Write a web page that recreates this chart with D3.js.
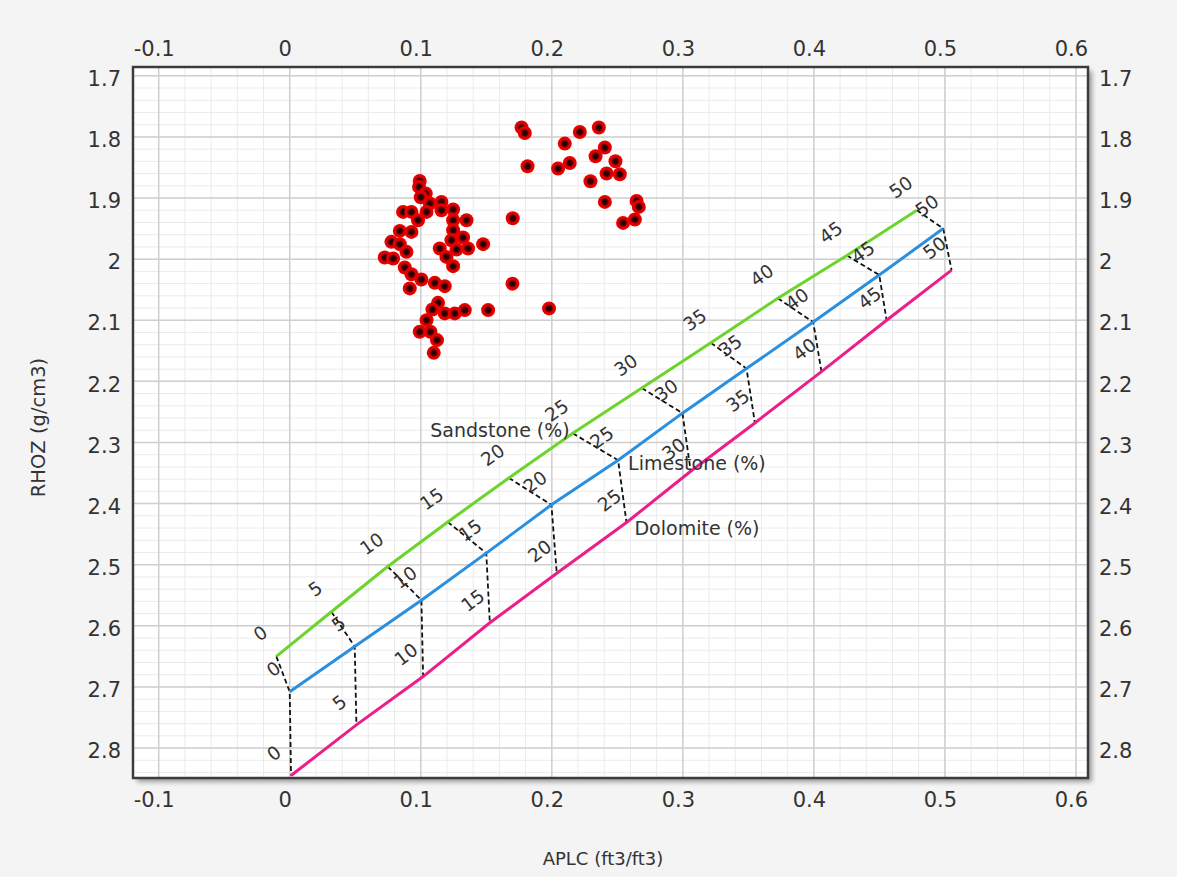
<!DOCTYPE html>
<html>
<head>
<meta charset="utf-8">
<script src="https://cdn.jsdelivr.net/npm/d3@7"></script>
<style>
  html, body { margin: 0; padding: 0; background: #f4f4f4; }
  svg { display: block; }
  text { font-family: "DejaVu Sans", Verdana, sans-serif; fill: #333333; }
</style>
</head>
<body>
<svg id="chart" width="1177" height="877"></svg>
<script>
// ---------- DATA ----------
const xTickValues = [-0.1, 0, 0.1, 0.2, 0.3, 0.4, 0.5, 0.6];
const xTickLabels = ["-0.1", "0", "0.1", "0.2", "0.3", "0.4", "0.5", "0.6"];
const yTickValues = [1.7, 1.8, 1.9, 2.0, 2.1, 2.2, 2.3, 2.4, 2.5, 2.6, 2.7, 2.8];
const yTickLabels = ["1.7", "1.8", "1.9", "2", "2.1", "2.2", "2.3", "2.4", "2.5", "2.6", "2.7", "2.8"];

const porosity = [0, 5, 10, 15, 20, 25, 30, 35, 40, 45, 50];
const sandAPLC = [-0.0102, 0.0318, 0.0748, 0.1206, 0.1672, 0.2160, 0.2687, 0.3214, 0.3725, 0.4252, 0.4786];
const sandRHOZ = [2.650, 2.577, 2.503, 2.430, 2.358, 2.285, 2.211, 2.137, 2.064, 1.994, 1.920];
const limeAPLC = [0.0000, 0.0496, 0.1005, 0.1500, 0.1997, 0.2506, 0.2997, 0.3486, 0.3995, 0.4499, 0.4987];
const limeRHOZ = [2.708, 2.634, 2.558, 2.481, 2.402, 2.329, 2.252, 2.179, 2.103, 2.026, 1.950];
const doloAPLC = [0.0010, 0.0509, 0.1018, 0.1527, 0.2038, 0.2570, 0.3060, 0.3550, 0.4058, 0.4555, 0.5051];
const doloRHOZ = [2.845, 2.762, 2.683, 2.595, 2.514, 2.431, 2.347, 2.268, 2.184, 2.100, 2.018];

const lithNames = ["Sandstone (%)", "Limestone (%)", "Dolomite (%)"];

const ptAPLC = [
  0.1769, 0.1794, 0.2214, 0.2359, 0.2099, 0.2405, 0.2334, 0.2486, 0.1815, 0.2048,
  0.2137, 0.2418, 0.2519, 0.2295, 0.2405, 0.2647, 0.2664, 0.2544, 0.2634,
  0.1702, 0.1700, 0.1979, 0.1514, 0.1476,
  0.0992, 0.0987, 0.1038, 0.1158, 0.1069, 0.0865, 0.0929, 0.1044, 0.1158, 0.1247,
  0.0979, 0.1247, 0.1349, 0.0840, 0.0929, 0.1247, 0.1234, 0.1323, 0.0776, 0.0840,
  0.1145, 0.1273, 0.1361, 0.0891, 0.0725, 0.0789, 0.1196, 0.1247, 0.0878, 0.0929,
  0.1005, 0.1107, 0.1183, 0.0916, 0.1132, 0.1089, 0.1183, 0.1260, 0.1336, 0.1044,
  0.0992, 0.1074, 0.1124, 0.1099, 0.1000
];
const ptRHOZ = [
  1.7847, 1.7935, 1.7919, 1.7847, 1.8109, 1.8174, 1.8316, 1.8398, 1.8480, 1.8517,
  1.8426, 1.8599, 1.8611, 1.8725, 1.9063, 1.9047, 1.9145, 1.9407, 1.9351,
  1.9330, 2.0401, 2.0806, 2.0834, 1.9755,
  1.8720, 1.8818, 1.8926, 1.9063, 1.9090, 1.9227, 1.9227, 1.9227, 1.9199, 1.9188,
  1.9363, 1.9363, 1.9363, 1.9538, 1.9554, 1.9526, 1.9690, 1.9646, 1.9717, 1.9755,
  1.9825, 1.9842, 1.9825, 1.9881, 1.9973, 1.9989, 1.9963, 2.0115, 2.0136, 2.0246,
  2.0332, 2.0388, 2.0442, 2.0479, 2.0715, 2.0823, 2.0888, 2.0888, 2.0834, 2.0998,
  2.1189, 2.1189, 2.1325, 2.1533, 1.8987
];

// ---------- LAYOUT ----------
const W = 1177, H = 877;
const plot = { left: 133, top: 67, right: 1088, bottom: 778 };

const x = d3.scaleLinear().domain([-0.1196, 0.6092]).range([plot.left, plot.right]);
const y = d3.scaleLinear().domain([1.6856, 2.849]).range([plot.top, plot.bottom]);

const svg = d3.select("#chart");

const defs = svg.append("defs");
const shadow = defs.append("filter").attr("id", "shadow").attr("x", "-5%").attr("y", "-5%").attr("width", "110%").attr("height", "110%");
shadow.append("feGaussianBlur").attr("stdDeviation", 2.5);
const grad = defs.append("radialGradient").attr("id", "dot");
grad.append("stop").attr("offset", "0%").attr("stop-color", "#1a0000");
grad.append("stop").attr("offset", "35%").attr("stop-color", "#3a0000");
grad.append("stop").attr("offset", "62%").attr("stop-color", "#d80000");
grad.append("stop").attr("offset", "100%").attr("stop-color", "#f00000");
defs.append("clipPath").attr("id", "clip").append("rect")
  .attr("x", plot.left).attr("y", plot.top)
  .attr("width", plot.right - plot.left).attr("height", plot.bottom - plot.top);

svg.append("rect").attr("width", W).attr("height", H).attr("fill", "#f4f4f4");

// shadow
svg.append("rect")
  .attr("x", plot.left + 4).attr("y", plot.top + 4)
  .attr("width", plot.right - plot.left).attr("height", plot.bottom - plot.top)
  .attr("fill", "#9a9a9a").attr("filter", "url(#shadow)");

svg.append("rect")
  .attr("x", plot.left).attr("y", plot.top)
  .attr("width", plot.right - plot.left).attr("height", plot.bottom - plot.top)
  .attr("fill", "#ffffff");

const g = svg.append("g").attr("clip-path", "url(#clip)");

// minor grid
const xMinor = d3.range(-0.12, 0.62, 0.02).filter(v => v > x.domain()[0] && v < x.domain()[1]);
const yMinor = d3.range(1.68, 2.86, 0.02).filter(v => v > y.domain()[0] && v < y.domain()[1]);
g.selectAll(".xminor").data(xMinor).join("line")
  .attr("x1", d => x(d)).attr("x2", d => x(d)).attr("y1", plot.top).attr("y2", plot.bottom)
  .attr("stroke", "#ebebeb").attr("stroke-width", 1);
g.selectAll(".yminor").data(yMinor).join("line")
  .attr("y1", d => y(d)).attr("y2", d => y(d)).attr("x1", plot.left).attr("x2", plot.right)
  .attr("stroke", "#ebebeb").attr("stroke-width", 1);
// major grid
g.selectAll(".xmajor").data(xTickValues).join("line")
  .attr("x1", d => x(d)).attr("x2", d => x(d)).attr("y1", plot.top).attr("y2", plot.bottom)
  .attr("stroke", "#cfcfcf").attr("stroke-width", 1.5);
g.selectAll(".ymajor").data(yTickValues).join("line")
  .attr("y1", d => y(d)).attr("y2", d => y(d)).attr("x1", plot.left).attr("x2", plot.right)
  .attr("stroke", "#cfcfcf").attr("stroke-width", 1.5);

// ---------- LITHOLOGY LINES ----------
const liths = [
  { name: lithNames[0], a: sandAPLC, r: sandRHOZ, color: "#6cd42a" },
  { name: lithNames[1], a: limeAPLC, r: limeRHOZ, color: "#2b8fe0" },
  { name: lithNames[2], a: doloAPLC, r: doloRHOZ, color: "#ec1e8a" }
];

// dashed connectors (equal porosity)
porosity.forEach((p, i) => {
  const pts = liths.map(l => [x(l.a[i]), y(l.r[i])]);
  g.append("path")
    .attr("d", d3.line()(pts))
    .attr("fill", "none").attr("stroke", "#111").attr("stroke-width", 1.8)
    .attr("stroke-dasharray", "5,3");
});

liths.forEach(l => {
  const pts = l.a.map((v, i) => [x(v), y(l.r[i])]);
  g.append("path")
    .attr("d", d3.line()(pts))
    .attr("fill", "none").attr("stroke", l.color).attr("stroke-width", 3);
});

// porosity labels
liths.forEach(l => {
  const n = l.a.length;
  const dx = x(l.a[n - 1]) - x(l.a[0]);
  const dy = y(l.r[n - 1]) - y(l.r[0]);
  const ang = Math.atan2(dy, dx);
  const deg = ang * 180 / Math.PI;
  const off = 28;
  const nx = Math.sin(ang) * off, ny = -Math.cos(ang) * off;
  porosity.forEach((p, i) => {
    const px = x(l.a[i]) + nx, py = y(l.r[i]) + ny;
    svg.append("text")
      .attr("transform", `translate(${px},${py}) rotate(${deg})`)
      .attr("text-anchor", "middle").attr("dominant-baseline", "central")
      .attr("font-size", 18.5).text(p);
  });
});

// lithology names
const i25 = porosity.indexOf(25);
svg.append("text")
  .attr("x", x(sandAPLC[i25]) - 3).attr("y", y(sandRHOZ[i25]) - 3)
  .attr("text-anchor", "end").attr("dominant-baseline", "central")
  .attr("font-size", 19).text(lithNames[0]);
svg.append("text")
  .attr("x", x(limeAPLC[i25]) + 10).attr("y", y(limeRHOZ[i25]) + 3)
  .attr("dominant-baseline", "central")
  .attr("font-size", 19).text(lithNames[1]);
svg.append("text")
  .attr("x", x(doloAPLC[i25]) + 8).attr("y", y(doloRHOZ[i25]) + 5)
  .attr("dominant-baseline", "central")
  .attr("font-size", 19).text(lithNames[2]);

// ---------- SCATTER ----------
g.selectAll(".pt").data(ptAPLC.map((v, i) => [v, ptRHOZ[i]])).join("circle")
  .attr("cx", d => x(d[0])).attr("cy", d => y(d[1])).attr("r", 7)
  .attr("fill", "url(#dot)");

// frame
svg.append("rect")
  .attr("x", plot.left).attr("y", plot.top)
  .attr("width", plot.right - plot.left).attr("height", plot.bottom - plot.top)
  .attr("fill", "none").attr("stroke", "#3c3c3c").attr("stroke-width", 2.5);

// ---------- AXES ----------
const fmtX = d => xTickLabels[xTickValues.indexOf(d)];
const fmtY = d => yTickLabels[yTickValues.indexOf(d)];
function styleAxis(sel) {
  sel.select(".domain").remove();
  sel.selectAll(".tick line").remove();
  sel.selectAll(".tick text").attr("font-size", 21).attr("fill", "#333333")
    .attr("font-family", "DejaVu Sans, Verdana, sans-serif");
}
svg.append("g").attr("transform", `translate(-5,${plot.top - 11})`)
  .call(d3.axisTop(x).tickValues(xTickValues).tickFormat(fmtX).tickSize(0).tickPadding(0))
  .call(styleAxis);
svg.append("g").attr("transform", `translate(-5,${plot.bottom + 10})`)
  .call(d3.axisBottom(x).tickValues(xTickValues).tickFormat(fmtX).tickSize(0).tickPadding(0))
  .call(styleAxis)
  .selectAll(".tick text").attr("dy", "0.9em");
svg.append("g").attr("transform", `translate(${plot.left - 12},3)`)
  .call(d3.axisLeft(y).tickValues(yTickValues).tickFormat(fmtY).tickSize(0).tickPadding(0))
  .call(styleAxis);
svg.append("g").attr("transform", `translate(${plot.right + 11},3)`)
  .call(d3.axisRight(y).tickValues(yTickValues).tickFormat(fmtY).tickSize(0).tickPadding(0))
  .call(styleAxis);

// titles
svg.append("text")
  .attr("x", 603).attr("y", 858)
  .attr("text-anchor", "middle").attr("dominant-baseline", "central")
  .attr("font-size", 18).text("APLC (ft3/ft3)");
svg.append("text")
  .attr("transform", `translate(38,${(plot.top + plot.bottom) / 2 + 5}) rotate(-90)`)
  .attr("text-anchor", "middle").attr("dominant-baseline", "central")
  .attr("font-size", 19.5).text("RHOZ (g/cm3)");
</script>
</body>
</html>
